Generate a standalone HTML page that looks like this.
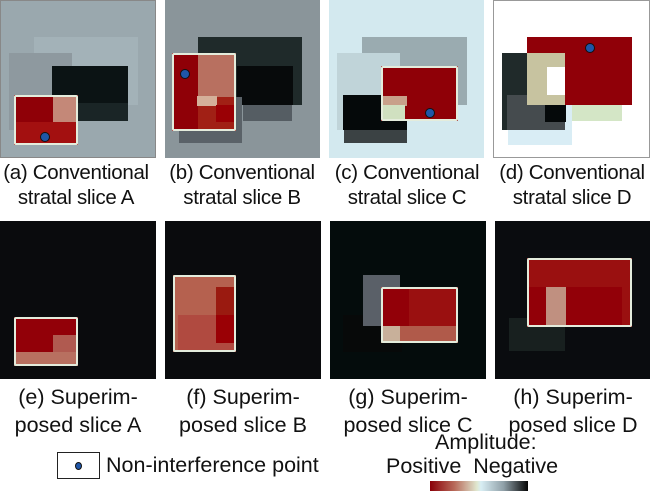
<!DOCTYPE html>
<html><head><style>
body{margin:0;width:650px;height:491px;background:#fff;position:relative;overflow:hidden;font-family:"Liberation Sans",sans-serif;}
.p{position:absolute;overflow:hidden;}
.r{position:absolute;}
.b{position:absolute;border:2px solid #e4ecdc;box-sizing:border-box;border-radius:2px;}
.d{position:absolute;width:10px;height:10px;border-radius:50%;background:#1f56a8;border:1.5px solid #111;box-sizing:border-box;}
.cap{position:absolute;width:200px;text-align:center;font-size:20.5px;line-height:25px;color:#111;letter-spacing:-0.3px;}
.cap2{position:absolute;width:200px;text-align:center;font-size:21.5px;line-height:28px;color:#111;}
</style></head><body>
<!-- A -->
<div class="p" style="left:0;top:0;width:156px;height:158px;background:#9aa8ae;border:1px solid #888;box-sizing:border-box"></div>
<div class="r" style="left:34px;top:37px;width:104px;height:68px;background:#a3b2b8"></div>
<div class="r" style="left:9px;top:53px;width:63px;height:77px;background:#8e999f"></div>
<div class="r" style="left:52px;top:66px;width:76px;height:55px;background:#0b1314"></div>
<div class="r" style="left:72px;top:103px;width:56px;height:18px;background:#1a2526"></div>
<div class="r" style="left:14px;top:95px;width:64px;height:50px;background:#8f0007"></div>
<div class="r" style="left:53px;top:97px;width:25px;height:25px;background:#c48878"></div>
<div class="r" style="left:14px;top:122px;width:64px;height:23px;background:#a31010"></div>
<div class="b" style="left:14px;top:95px;width:64px;height:50px"></div>
<div class="d" style="left:40px;top:132px"></div>
<!-- B -->
<div class="p" style="left:165px;top:0;width:155px;height:158px;background:#8a959a"></div>
<div class="r" style="left:198px;top:37px;width:104px;height:68px;background:#1f2a2a"></div>
<div class="r" style="left:237px;top:66px;width:56px;height:39px;background:#070a0b"></div>
<div class="r" style="left:179px;top:97px;width:63px;height:46px;background:#5a6268"></div>
<div class="r" style="left:243px;top:105px;width:49px;height:16px;background:#555d63"></div>
<div class="r" style="left:172px;top:53px;width:64px;height:78px;background:#a12015"></div>
<div class="r" style="left:172px;top:53px;width:26px;height:78px;background:#8f0007"></div>
<div class="r" style="left:198px;top:53px;width:38px;height:44px;background:#b87060"></div>
<div class="r" style="left:197px;top:96px;width:20px;height:10px;background:#d4b09a"></div>
<div class="r" style="left:216px;top:105px;width:20px;height:17px;background:#9a0005"></div>
<div class="b" style="left:172px;top:53px;width:64px;height:78px"></div>
<div class="d" style="left:180px;top:69px"></div>
<!-- C -->
<div class="p" style="left:329px;top:0;width:155px;height:158px;background:#d3e9ef"></div>
<div class="r" style="left:362px;top:37px;width:105px;height:68px;background:#9aabb0"></div>
<div class="r" style="left:337px;top:53px;width:63px;height:77px;background:#c0d4d9"></div>
<div class="r" style="left:344px;top:130px;width:63px;height:13px;background:#3b4244"></div>
<div class="r" style="left:343px;top:95px;width:64px;height:35px;background:#05090a"></div>
<div class="r" style="left:381px;top:66px;width:77px;height:55px;background:#8f0007"></div>
<div class="r" style="left:383px;top:96px;width:24px;height:10px;background:#c8a08a"></div>
<div class="r" style="left:383px;top:105px;width:22px;height:16px;background:#d0e0c0"></div>
<div class="b" style="left:381px;top:66px;width:77px;height:55px"></div>
<div class="d" style="left:425px;top:108px"></div>
<!-- D -->
<div class="p" style="left:493px;top:0;width:157px;height:158px;background:#fff;border:1px solid #999;box-sizing:border-box"></div>
<div class="r" style="left:508px;top:95px;width:64px;height:50px;background:#d9edf5"></div>
<div class="r" style="left:572px;top:105px;width:50px;height:16px;background:#d4e6c6"></div>
<div class="r" style="left:502px;top:53px;width:63px;height:77px;background:#202a2a"></div>
<div class="r" style="left:507px;top:95px;width:58px;height:35px;background:#454b4e"></div>
<div class="r" style="left:527px;top:37px;width:105px;height:68px;background:#900008"></div>
<div class="r" style="left:527px;top:53px;width:38px;height:52px;background:#c7c3a0"></div>
<div class="r" style="left:547px;top:67px;width:18px;height:28px;background:#fff"></div>
<div class="r" style="left:545px;top:105px;width:21px;height:17px;background:#05090a"></div>
<div class="d" style="left:585px;top:43px"></div>
<!-- captions top -->
<div class="cap" style="left:-24px;top:160px">(a) Conventional<br>stratal slice A</div>
<div class="cap" style="left:142px;top:160px">(b) Conventional<br>stratal slice B</div>
<div class="cap" style="left:307px;top:160px">(c) Conventional<br>stratal slice C</div>
<div class="cap" style="left:472px;top:160px">(d) Conventional<br>stratal slice D</div>
<!-- E -->
<div class="p" style="left:0;top:221px;width:156px;height:158px;background:#0a0b0d"></div>
<div class="r" style="left:14px;top:317px;width:64px;height:49px;background:#920008"></div>
<div class="r" style="left:53px;top:335px;width:25px;height:17px;background:#b05a50"></div>
<div class="r" style="left:14px;top:352px;width:64px;height:14px;background:#b87060"></div>
<div class="b" style="left:14px;top:317px;width:64px;height:49px"></div>
<!-- F -->
<div class="p" style="left:165px;top:221px;width:156px;height:158px;background:#0a0b0d"></div>
<div class="r" style="left:173px;top:275px;width:63px;height:77px;background:#b5614f"></div>
<div class="r" style="left:178px;top:315px;width:58px;height:37px;background:#b04a40"></div>
<div class="r" style="left:216px;top:287px;width:20px;height:28px;background:#9a1a10"></div>
<div class="r" style="left:216px;top:315px;width:20px;height:28px;background:#9a0005"></div>
<div class="b" style="left:173px;top:275px;width:63px;height:77px"></div>
<!-- G -->
<div class="p" style="left:330px;top:221px;width:156px;height:158px;background:#040c0c"></div>
<div class="r" style="left:343px;top:315px;width:59px;height:37px;background:#070909"></div>
<div class="r" style="left:363px;top:275px;width:37px;height:51px;background:#5a6068"></div>
<div class="r" style="left:381px;top:287px;width:77px;height:56px;background:#9a1010"></div>
<div class="r" style="left:381px;top:287px;width:28px;height:39px;background:#920008"></div>
<div class="r" style="left:381px;top:326px;width:77px;height:17px;background:#b05a4a"></div>
<div class="r" style="left:381px;top:326px;width:19px;height:17px;background:#c8b09a"></div>
<div class="b" style="left:381px;top:287px;width:77px;height:56px"></div>
<!-- H -->
<div class="p" style="left:495px;top:221px;width:155px;height:158px;background:#0a0c0f"></div>
<div class="r" style="left:509px;top:318px;width:56px;height:33px;background:#18201f"></div>
<div class="r" style="left:527px;top:258px;width:105px;height:69px;background:#9a1010"></div>
<div class="r" style="left:527px;top:287px;width:95px;height:40px;background:#920008"></div>
<div class="r" style="left:546px;top:287px;width:20px;height:40px;background:#c09080"></div>
<div class="b" style="left:527px;top:258px;width:105px;height:69px"></div>
<!-- captions bottom -->
<div class="cap2" style="left:-22px;top:383px">(e) Superim-<br>posed slice A</div>
<div class="cap2" style="left:143px;top:383px">(f) Superim-<br>posed slice B</div>
<div class="cap2" style="left:308px;top:383px">(g) Superim-<br>posed slice C</div>
<div class="cap2" style="left:473px;top:383px">(h) Superim-<br>posed slice D</div>
<!-- legend -->
<div class="r" style="left:57px;top:452px;width:43px;height:27px;border:1px solid #222;box-sizing:border-box"></div>
<div class="r" style="left:75px;top:462px;width:7px;height:8px;border-radius:50%;background:#1f56a8;border:1px solid #111;box-sizing:border-box"></div>
<div class="r" style="left:106px;top:452px;font-size:21.5px;line-height:26px;color:#111;white-space:nowrap">Non-interference point</div>
<div class="r" style="left:435px;top:430px;font-size:21.5px;line-height:24px;color:#111;white-space:nowrap">Amplitude:</div>
<div class="r" style="left:386px;top:454px;font-size:21.5px;line-height:24px;color:#111;white-space:nowrap">Positive&nbsp;&nbsp;Negative</div>
<div class="r" style="left:430px;top:481px;width:98px;height:10px;background:linear-gradient(90deg,#8a0008,#b86a5a 25%,#e0e8d0 48%,#d8eef4 52%,#90a0a8 75%,#050505)"></div>
</body></html>
